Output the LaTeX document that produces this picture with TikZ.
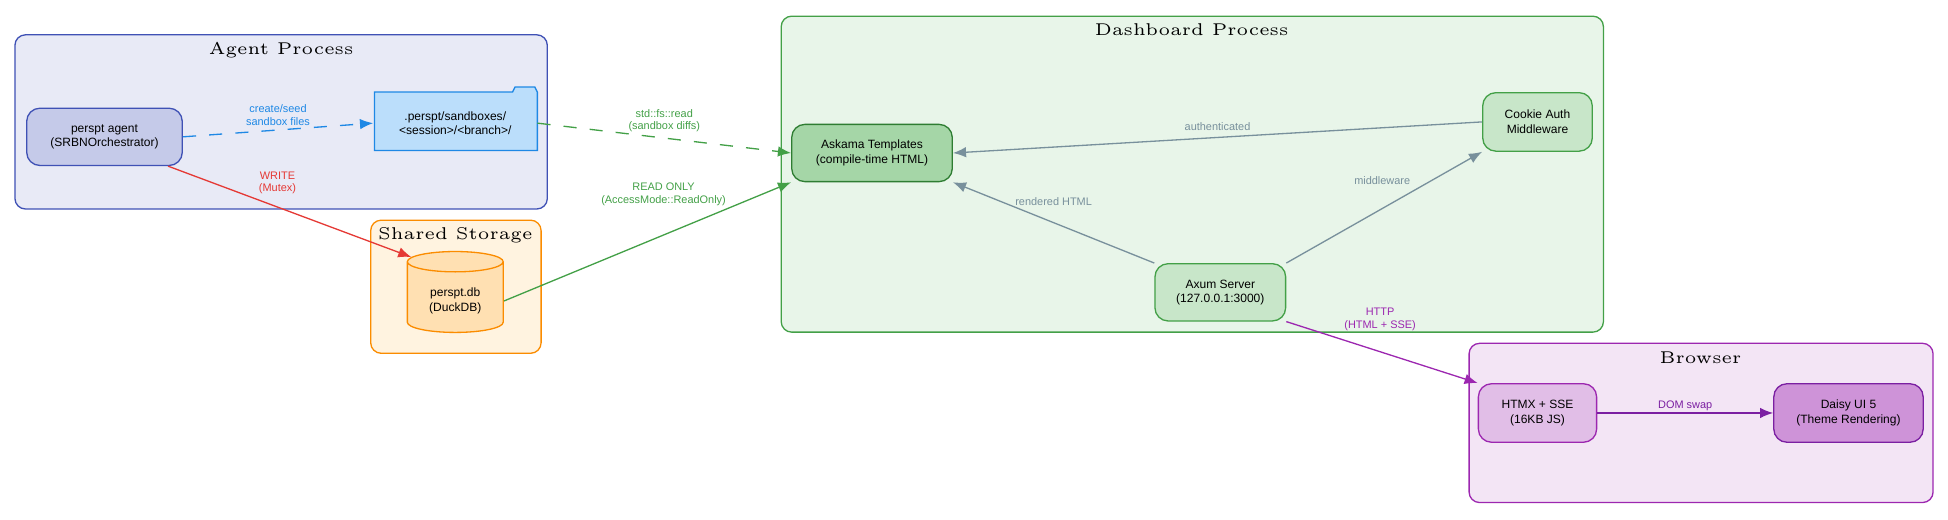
\documentclass[tikz,border=0pt]{standalone}
\usepackage{fontspec}
\setmainfont{Liberation Sans}
\newfontfamily\titlefont{Latin Modern Roman}
\usetikzlibrary{shapes.geometric,arrows.meta,positioning}
\definecolor{agentbg}{HTML}{E8EAF6}\definecolor{agentln}{HTML}{3F51B5}
\definecolor{agentnd}{HTML}{C5CAE9}
\definecolor{foldbg}{HTML}{BBDEFB}\definecolor{foldln}{HTML}{1E88E5}
\definecolor{storbg}{HTML}{FFF3E0}\definecolor{storln}{HTML}{FB8C00}
\definecolor{dbbg}{HTML}{FFE0B2}
\definecolor{dashbg}{HTML}{E8F5E9}\definecolor{dashln}{HTML}{43A047}
\definecolor{dashnd}{HTML}{C8E6C9}\definecolor{askbg}{HTML}{A5D6A7}
\definecolor{askln}{HTML}{2E7D32}
\definecolor{browbg}{HTML}{F3E5F5}\definecolor{browln}{HTML}{9C27B0}
\definecolor{htmxbg}{HTML}{E1BEE7}\definecolor{daisybg}{HTML}{CE93D8}
\definecolor{daisyln}{HTML}{7B1FA2}
\definecolor{grayln}{HTML}{78909C}\definecolor{writeln}{HTML}{E53935}
\tikzset{
  cluster/.style={rounded corners=2.4pt,line width=0.3pt},
  ctitle/.style={font=\titlefont\fontsize{3.9}{4.5}\selectfont},
  box/.style={rounded corners=3pt,line width=0.3pt,align=center,font=\fontsize{2.75}{3.3}\selectfont},
  elabel/.style={font=\fontsize{2.5}{2.9}\selectfont,align=center},
  arr/.style={-{Latex[length=3pt,width=2.4pt]},line width=0.3pt}
}
\begin{document}
\begin{tikzpicture}[x=0.01cm,y=-0.01cm]
\useasboundingbox (0,0) rectangle (1566,418);
% clusters
\draw[cluster,fill=agentbg,draw=agentln] (12,28) rectangle (440,168);
\node[ctitle] (tagent) at (226,40) {Agent Process};
\draw[cluster,fill=storbg,draw=storln] (298,177) rectangle (435,284);
\node[ctitle] (tstore) at (366,189) {Shared Storage};
\draw[cluster,fill=dashbg,draw=dashln] (628,13) rectangle (1289,267);
\node[ctitle] (tdash) at (958,24) {Dashboard Process};
\draw[cluster,fill=browbg,draw=browln] (1181,276) rectangle (1554,404);
\node[ctitle] (tbrow) at (1367,288) {Browser};
% nodes
\node[box,fill=agentnd,draw=agentln,minimum width=1.25cm,minimum height=0.46cm] (agent) at (84,110) {perspt agent\\(SRBNOrchestrator)};
\draw[line width=0.3pt,fill=foldbg,draw=foldln] (301,121) -- (301,74) -- (412,74) -- (414,70) -- (430,70) -- (432,74) -- (432,121) -- cycle;
\node[box,rounded corners=0pt,minimum width=1.31cm,minimum height=0.46cm] (sandbox) at (366,99) {.perspt/sandboxes/\\<session>/<branch>/};
\node[cylinder,shape border rotate=90,aspect=0.25,line width=0.3pt,fill=dbbg,draw=storln,minimum width=0.77cm,minimum height=0.65cm,align=center,font=\fontsize{2.75}{3.3}\selectfont] (db) at (366,242) {perspt.db\\(DuckDB)};
\node[box,fill=askbg,draw=askln,minimum width=1.29cm,minimum height=0.46cm] (askama) at (701,123) {Askama Templates\\(compile-time HTML)};
\node[box,fill=dashnd,draw=dashln,minimum width=0.88cm,minimum height=0.47cm] (cookie) at (1236,98) {Cookie Auth\\Middleware};
\node[box,fill=dashnd,draw=dashln,minimum width=1.05cm,minimum height=0.46cm] (axum) at (981,235) {Axum Server\\(127.0.0.1:3000)};
\node[box,fill=htmxbg,draw=browln,minimum width=0.95cm,minimum height=0.47cm] (htmx) at (1236,332) {HTMX + SSE\\(16KB JS)};
\node[box,fill=daisybg,draw=daisyln,minimum width=1.2cm,minimum height=0.47cm] (daisy) at (1486,332) {Daisy UI 5\\(Theme Rendering)};
% edges
\draw[arr,dashed,foldln] (agent.east) -- node[elabel,yshift=3.4pt,foldln] {create/seed\\sandbox files} (sandbox.west);
\draw[arr,writeln] (agent.south east) ++(-12,0) -- node[elabel,pos=0.45,yshift=5.5pt,writeln] {WRITE\\(Mutex)} (db.north west);
\draw[arr,dashed,dashln] (sandbox.east) -- node[elabel,yshift=4pt,dashln] {std::fs::read\\(sandbox diffs)} (askama.west);
\draw[arr,dashln] (db.east) -- node[elabel,pos=0.556,yshift=9.3pt,dashln] {READ ONLY\\(AccessMode::ReadOnly)} (askama.south west);
\draw[arr,grayln] (cookie.west) -- node[elabel,yshift=2.4pt,grayln] {authenticated} (askama.east);
\draw[arr,grayln] (axum.north west) -- node[elabel,pos=0.5,yshift=4.8pt,grayln] {rendered HTML} (askama.south east);
\draw[arr,grayln] (axum.north east) -- node[elabel,pos=0.49,yshift=6.5pt,grayln] {middleware} (cookie.south west);
\draw[arr,browln] (axum.south east) -- node[elabel,pos=0.49,yshift=7.4pt,browln] {HTTP\\(HTML + SSE)} (htmx.north west);
\draw[arr,daisyln] (htmx.east) -- node[elabel,yshift=1.7pt,daisyln] {DOM swap} (daisy.west);
\end{tikzpicture}
\end{document}
